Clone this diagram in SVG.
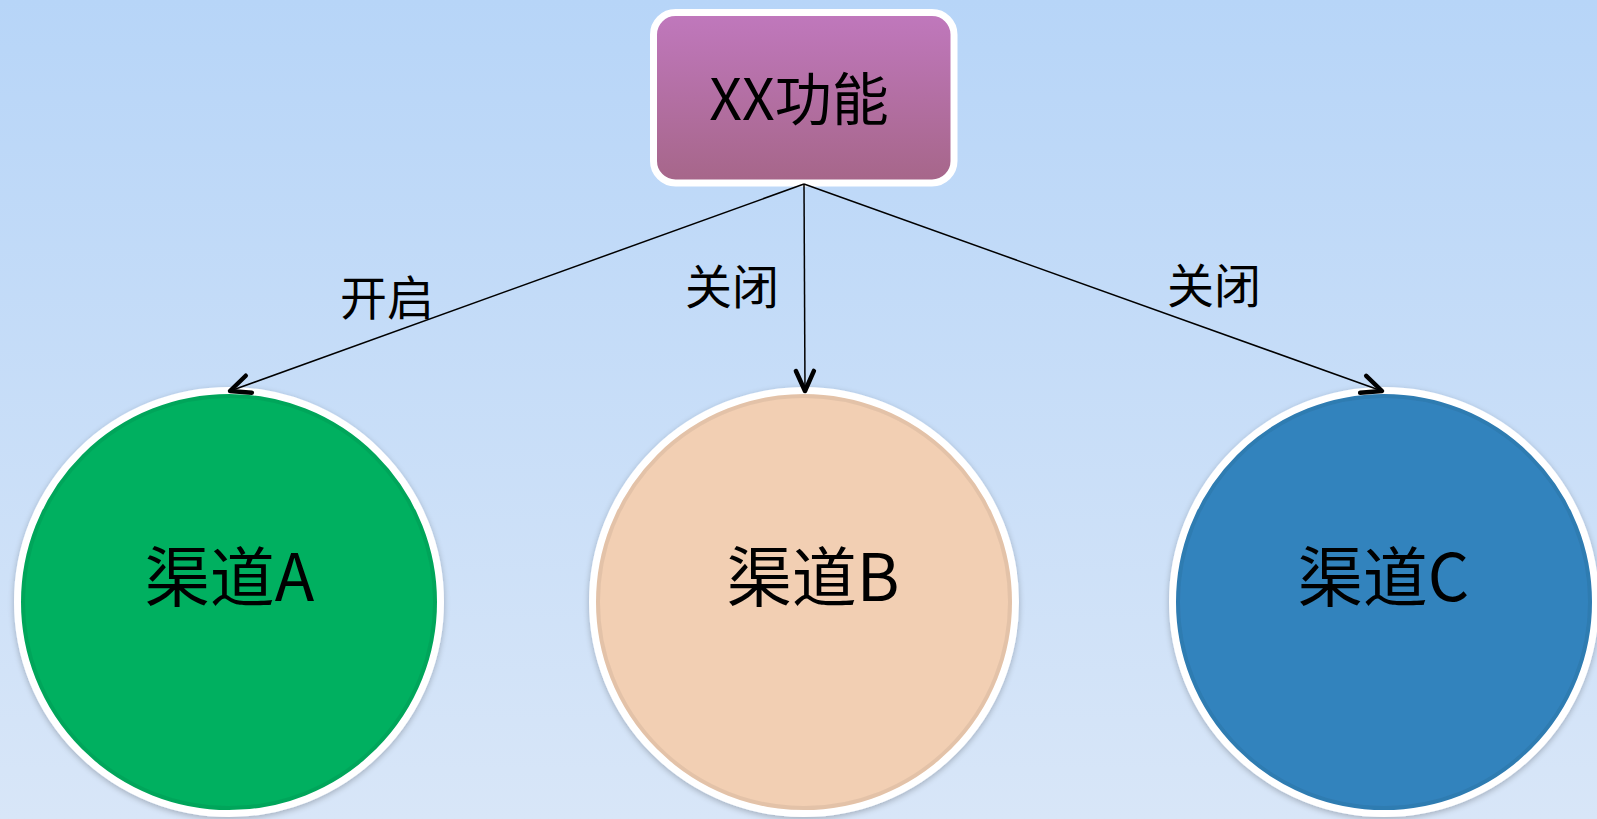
<svg xmlns="http://www.w3.org/2000/svg" width="1597" height="819" viewBox="0 0 1597 819">
<style>
.lbl{font-family:"Microsoft YaHei","Noto Sans CJK SC","Noto Sans",sans-serif;fill:#000;text-anchor:middle;font-weight:400}
.node-t{font-size:65px}
.edge-t{font-size:47px}
.ring{stroke:#ffffff;stroke-width:7}
.inner{fill:none;stroke:#000;stroke-opacity:0.06;stroke-width:4}
.conn{stroke:#000;stroke-width:1.5;fill:none;marker-end:url(#arr)}
</style>
<defs>
<linearGradient id="bg" x1="0" y1="0" x2="0" y2="1">
<stop offset="0" stop-color="#b7d5f8"/>
<stop offset="1" stop-color="#d8e6f8"/>
</linearGradient>
<linearGradient id="boxg" x1="0" y1="0" x2="0" y2="1">
<stop offset="0" stop-color="#c078bd"/>
<stop offset="1" stop-color="#a66689"/>
</linearGradient>
<marker id="arr" markerUnits="userSpaceOnUse" markerWidth="34" markerHeight="34" viewBox="-26 -17 34 34" refX="0" refY="0" orient="auto" overflow="visible">
<path d="M -20 -9 L 0 0 L -20 9" fill="none" stroke="#000" stroke-width="4.5" stroke-linecap="round" stroke-linejoin="round"/>
</marker>
<filter id="sh" x="-10%" y="-10%" width="120%" height="120%">
<feGaussianBlur in="SourceAlpha" stdDeviation="3"/>
<feOffset dx="0" dy="2" result="b"/>
<feComponentTransfer><feFuncA type="linear" slope="0.25"/></feComponentTransfer>
<feMerge><feMergeNode/><feMergeNode in="SourceGraphic"/></feMerge>
</filter>
</defs>
<rect x="0" y="0" width="1597" height="819" fill="url(#bg)"/>

<g id="node-xx">
<rect x="653.5" y="12.5" width="300.5" height="170.5" rx="22" ry="22" fill="url(#boxg)" class="ring"/>
<text class="lbl" x="799" y="120" font-size="57">XX功能</text>
</g>

<g id="node-a" filter="url(#sh)">
<circle cx="229" cy="602" r="211.5" fill="#00b060" class="ring"/>
<circle class="inner" cx="229" cy="602" r="206"/>
<text class="lbl node-t" x="229.5" y="601">渠道A</text>
</g>

<g id="node-b" filter="url(#sh)">
<circle cx="804" cy="602" r="211.5" fill="#f2cfb3" class="ring"/>
<circle class="inner" cx="804" cy="602" r="206"/>
<text class="lbl node-t" x="813" y="601">渠道B</text>
</g>

<g id="node-c" filter="url(#sh)">
<circle cx="1384" cy="602" r="211.5" fill="#3283bd" class="ring"/>
<circle class="inner" cx="1384" cy="602" r="206"/>
<text class="lbl node-t" x="1383.5" y="601">渠道C</text>
</g>

<g id="connectors">
<line class="conn" x1="804" y1="184" x2="230" y2="391"/>
<line class="conn" x1="804" y1="184" x2="805" y2="391"/>
<line class="conn" x1="804" y1="184" x2="1382" y2="391"/>
<text class="lbl edge-t" x="387" y="315">开启</text>
<text class="lbl edge-t" x="732" y="304">关闭</text>
<text class="lbl edge-t" x="1214" y="303">关闭</text>
</g>
</svg>
